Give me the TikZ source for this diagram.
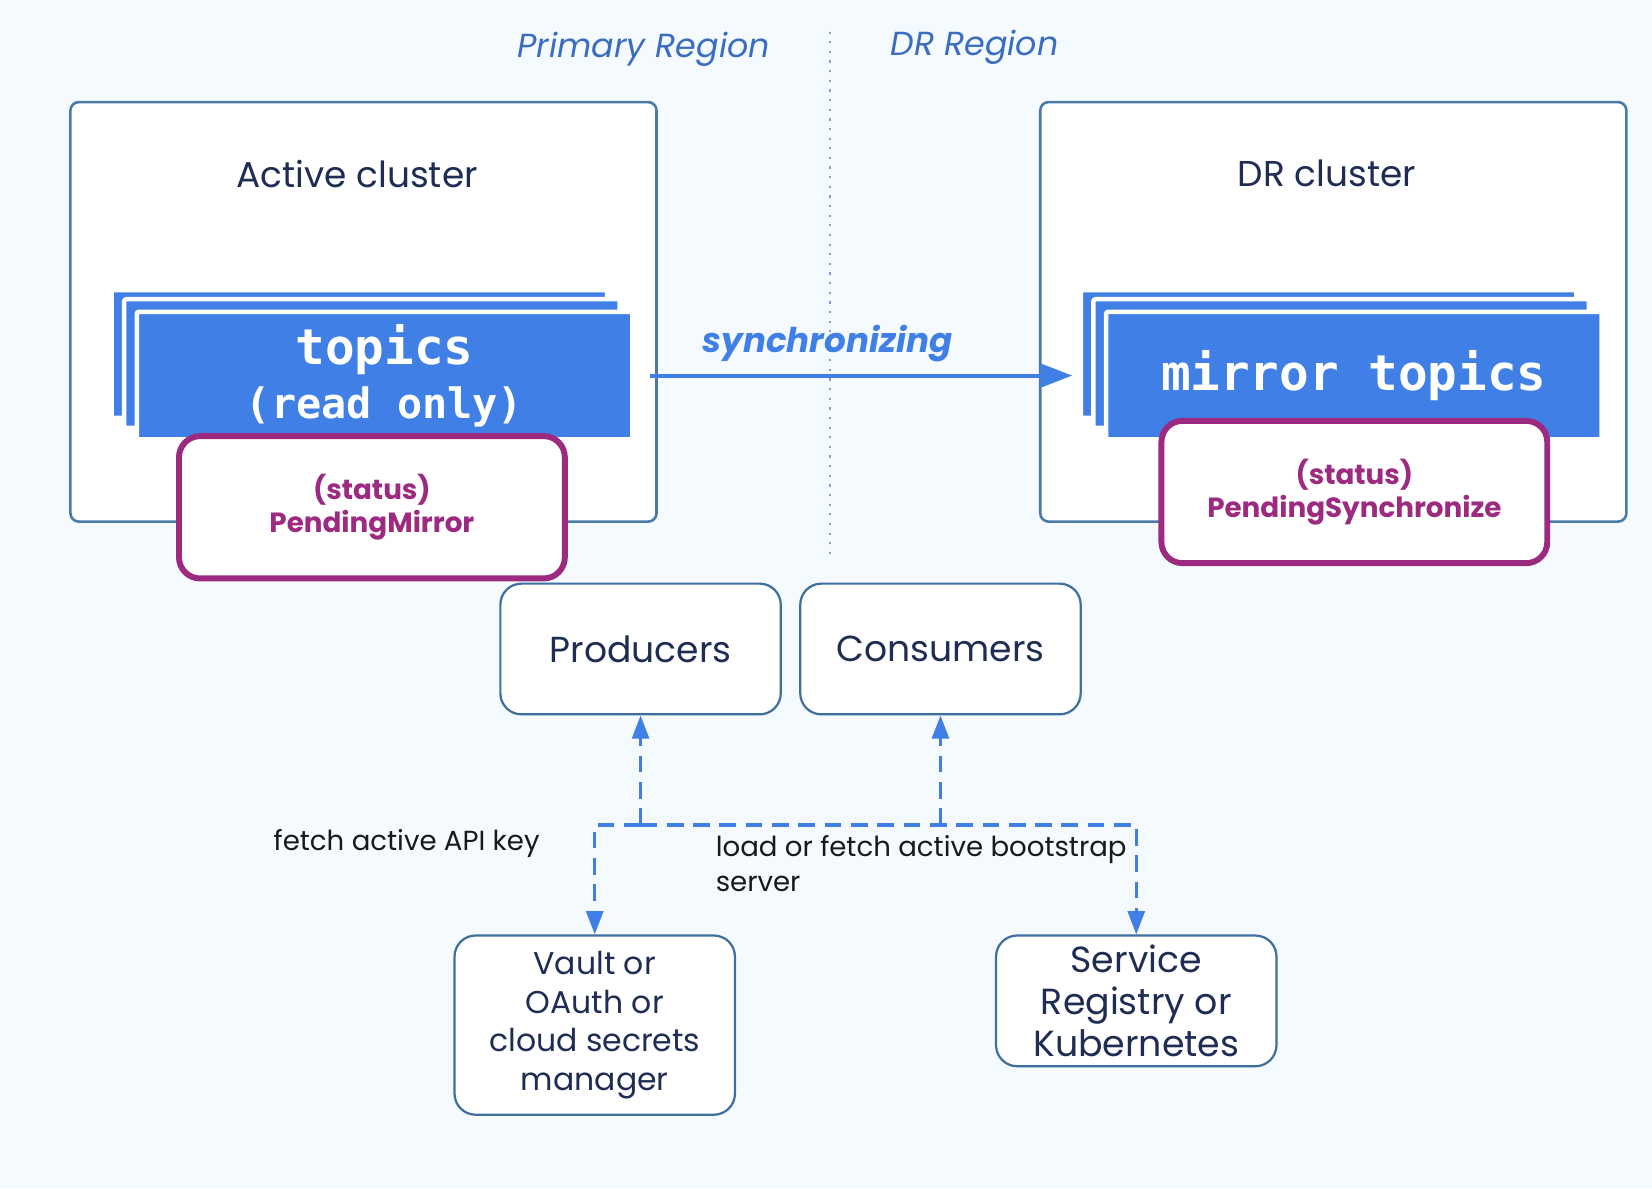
\documentclass[tikz,border=0pt]{standalone}
\usepackage{fontspec}
\setmainfont{Poppins}
\setmonofont{DejaVu Sans Mono}
\usetikzlibrary{arrows.meta, positioning}
\definecolor{bgblue}{HTML}{F5FAFE}
\definecolor{clusterline}{HTML}{4A7BA7}
\definecolor{boxline}{HTML}{3F6F9C}
\definecolor{topicblue}{HTML}{3F7FE6}
\definecolor{statuspurple}{HTML}{9C2A80}
\definecolor{navy}{HTML}{1F2D54}
\definecolor{regionblue}{HTML}{3A6DC0}
\definecolor{sepline}{HTML}{7F9FC8}
\tikzstyle{cluster} = [rectangle, rounded corners=0.08cm, minimum width=5.56cm, minimum height=3.98cm, draw=clusterline, fill=white, line width=0.7pt]
\tikzstyle{clustertext} = [text=navy, font=\fontsize{9.7pt}{12pt}\selectfont]
\tikzstyle{region} = [text=regionblue, font=\itshape\fontsize{9pt}{11pt}\selectfont]
\tikzstyle{sheet} = [rectangle, rounded corners=0.02cm, minimum width=4.7cm, minimum height=1.21cm, inner sep=0pt, fill=topicblue, draw=white, line width=1.2pt, text=white, align=center, font=\ttfamily\bfseries\fontsize{13.3pt}{15.5pt}\selectfont]
\tikzstyle{status} = [rectangle, rounded corners=0.2cm, minimum width=3.66cm, minimum height=1.35cm, draw=statuspurple, fill=white, line width=1.6pt, text=statuspurple, align=center, font=\bfseries\fontsize{7.5pt}{8.8pt}\selectfont]
\tikzstyle{endpoint} = [rectangle, rounded corners=0.2cm, minimum width=2.66cm, minimum height=1.24cm, inner sep=0pt, draw=boxline, fill=white, line width=0.6pt, text=navy, align=center, font=\fontsize{9.75pt}{11pt}\selectfont]
\tikzstyle{note} = [text=black!90, align=left, font=\fontsize{7.45pt}{9.4pt}\selectfont]
\tikzstyle{syncarrow} = [line width=1.1pt, draw=topicblue, -{Triangle[length=0.3cm, width=0.22cm]}]
\tikzstyle{dasharrow} = [line width=0.85pt, draw=topicblue, dash pattern=on 4.5pt off 2.6pt, -{Triangle[length=0.22cm, width=0.16cm]}]

\begin{document}
\begin{tikzpicture}[x=0.01cm, y=-0.01cm, node distance = 2cm]
    \useasboundingbox (0,0) rectangle (1568,1128);
    \fill[bgblue] (0,0) rectangle (1568,1128);

    % regions
    \coordinate (septop) at (788,30);
    \coordinate (sepbottom) at (788,527);
    \draw [sepline, line width=0.6pt, dotted] (septop) -- (sepbottom);
    \node (primary) [region] at (611,47) {Primary Region};
    \node (drregion) [region] at (925,45) {DR Region};

    % clusters
    \node (active) [cluster] at (345,296) {};
    \node (dr) [cluster, right of=active, xshift=7.2cm] {};
    \node (activelabel) [clustertext] at ([xshift=-0.06cm, yshift=-0.69cm]active.north) {Active cluster};
    \node (drlabel) [clustertext] at ([xshift=-0.06cm, yshift=-0.69cm]dr.north) {DR cluster};

    % topic stacks
    \node (activeback) [sheet] at (341,336) {};
    \node (activemid) [sheet, minimum height=1.22cm] at (353,345) {};
    \node (activetopics) [sheet] at (365,356.5) {topics\\[-1pt]{\fontsize{11.3pt}{13pt}\selectfont (read only)}};
    \node (mirrorback) [sheet] at (1261,336) {};
    \node (mirrormid) [sheet, minimum height=1.22cm] at (1273,345) {};
    \node (mirrortopics) [sheet] at (1285,356.5) {mirror topics};

    % status
    \node (activestatus) [status] at (353,481.5) {(status)\\PendingMirror};
    \node (drstatus) [status] at (1285.5,467) {(status)\\PendingSynchronize};

    \draw [syncarrow] ([xshift=0.15cm]activetopics.east) -- node[pos=0.42, yshift=0.3cm, text=topicblue, font=\bfseries\itshape\fontsize{9.2pt}{11pt}\selectfont] {synchronizing} ([xshift=-0.06cm]activetopics.east -| mirrorback.west);

    % clients and lookups
    \node (producers) [endpoint] at (608,616) {Producers};
    \node (consumers) [endpoint, right of=producers, xshift=0.845cm] {Consumers};
    \node (vault) [endpoint, minimum height=1.7cm, font=\fontsize{8.5pt}{10.5pt}\selectfont] at (564.5,973) {Vault or\\OAuth or\\cloud secrets\\manager};
    \node (service) [endpoint, font=\fontsize{9.8pt}{11.4pt}\selectfont] at (1078.5,950) {Service\\Registry or\\Kubernetes};

    \coordinate (hub) at (608,783);
    \draw [dasharrow] (hub) -- (producers.south);
    \draw [dasharrow] (hub -| consumers.south) -- (consumers.south);
    \draw [dasharrow] (hub) -| (vault.north);
    \draw [dasharrow] (hub) -| (service.north);

    \node (apikey) [note] at (386,801) {fetch active API key};
    \node (bootstrap) [note, anchor=west] at (667,819.5) {load or fetch active bootstrap\\server};
\end{tikzpicture}
\end{document}
